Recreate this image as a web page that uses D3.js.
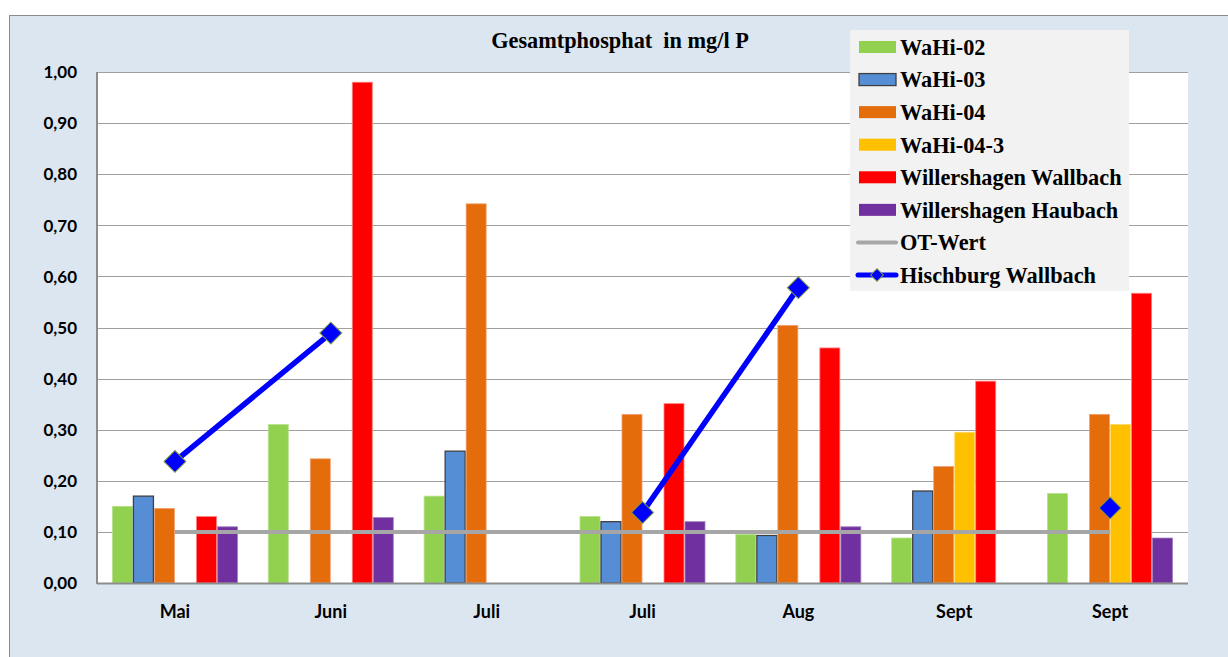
<!DOCTYPE html>
<html><head><meta charset="utf-8">
<script src="https://cdn.jsdelivr.net/npm/d3@7"></script>
<style>body{margin:0;background:#fff}svg{display:block}</style>
</head><body>
<svg id="c" width="1228" height="657"></svg>
<script>
const categories = ["Mai","Juni","Juli","Juli ","Aug","Sept","Sept "];
const categoryLabels = ["Mai","Juni","Juli","Juli","Aug","Sept","Sept"];
const wahi02 = [0.15,0.31,0.17,0.13,0.095,0.088,0.175];
const wahi03 = [0.17,null,0.258,0.12,0.093,0.18,null];
const wahi04 = [0.146,0.243,0.742,0.33,0.504,0.228,0.33];
const wahi043 = [null,null,null,null,null,0.295,0.31];
const willWallbach = [0.13,0.98,null,0.351,0.46,0.395,0.567];
const willHaubach = [0.11,0.128,null,0.12,0.11,null,0.088];
const otWert = [0.10,0.10,0.10,0.10,0.10,0.10,0.10];
const hischburg = [0.238,0.489,null,0.138,0.578,null,0.147];
const yTicks = [0,0.1,0.2,0.3,0.4,0.5,0.6,0.7,0.8,0.9,1.0];

const barSeries = [
  {name:"WaHi-02", values:wahi02, color:"#92d050", stroke:"#b5e08a"},
  {name:"WaHi-03", values:wahi03, color:"#558ed5", stroke:"#404040"},
  {name:"WaHi-04", values:wahi04, color:"#e46c0a", stroke:"#f0a070"},
  {name:"WaHi-04-3", values:wahi043, color:"#ffc000", stroke:"#ffd966"},
  {name:"Willershagen Wallbach", values:willWallbach, color:"#ff0000", stroke:"#ff8080"},
  {name:"Willershagen Haubach", values:willHaubach, color:"#7030a0", stroke:"#a080c0"}
];

const svg = d3.select("#c");
svg.append("rect").attr("x",9.5).attr("y",15.5).attr("width",1240).attr("height",700)
  .attr("fill","#dce6f1").attr("stroke","#8c8c8c").attr("stroke-width",1);

const pL=97, pR=1188, pT=72, pB=583;
const x = d3.scaleBand().domain(categories).range([pL,pR]).paddingInner(0).paddingOuter(0);
const y = d3.scaleLinear().domain([0,1]).range([pB,pT]);
const inner = d3.scaleBand().domain(barSeries.map(s=>s.name)).range([0,126]);
const off = (x.bandwidth()-126)/2;

svg.append("rect").attr("x",pL).attr("y",pT).attr("width",pR-pL).attr("height",pB-pT).attr("fill","#fff");

svg.append("g").selectAll("line").data(yTicks.filter(t=>t>0)).join("line")
  .attr("x1",pL).attr("x2",pR).attr("y1",d=>Math.round(y(d))+0.5).attr("y2",d=>Math.round(y(d))+0.5)
  .attr("stroke","#a0a0a0").attr("stroke-width",1.2);

const yAxis = d3.axisLeft(y).tickValues(yTicks).tickSize(0).tickPadding(20)
  .tickFormat(d=>d3.format(".2f")(d).replace(".",","));
const ya = svg.append("g").attr("transform",`translate(${pL},0)`).call(yAxis);
ya.select(".domain").remove();
ya.selectAll("text").attr("font-family","Lato, 'Open Sans', sans-serif").attr("font-weight","bold")
  .attr("font-size",17).attr("fill","#000").attr("dy","0.34em");

barSeries.forEach(s=>{
  svg.append("g").selectAll("rect").data(categories.map((c,i)=>({c,v:s.values[i]})).filter(d=>d.v!=null)).join("rect")
    .attr("x",d=>x(d.c)+off+inner(s.name)+0.5)
    .attr("width",inner.bandwidth()-1)
    .attr("y",d=>y(d.v))
    .attr("height",d=>pB-y(d.v))
    .attr("fill",s.color).attr("stroke",s.stroke).attr("stroke-width",s.name==="WaHi-03"?1.3:0.8);
});

svg.append("line").attr("x1",pL).attr("x2",pL).attr("y1",pT).attr("y2",pB+1).attr("stroke","#8c8c8c").attr("stroke-width",2);
svg.append("line").attr("x1",pL).attr("x2",pR).attr("y1",pB+0.5).attr("y2",pB+0.5).attr("stroke","#8c8c8c").attr("stroke-width",2);

const xAxis = d3.axisBottom(x).tickSize(0).tickPadding(22).tickFormat((d,i)=>categoryLabels[i]);
const xa = svg.append("g").attr("transform",`translate(0,${pB})`).call(xAxis);
xa.select(".domain").remove();
xa.selectAll("text").attr("font-family","Lato, 'Open Sans', sans-serif").attr("font-weight","bold")
  .attr("font-size",18).attr("fill","#000");

const cx = c=>x(c)+x.bandwidth()/2;
svg.append("path").datum(categories.map((c,i)=>({c,v:otWert[i]})))
  .attr("d",d3.line().x(d=>cx(d.c)).y(d=>y(d.v)))
  .attr("fill","none").attr("stroke","#a6a6a6").attr("stroke-width",4);

const hd = categories.map((c,i)=>({c,v:hischburg[i]}));
svg.append("path").datum(hd)
  .attr("d",d3.line().defined(d=>d.v!=null).x(d=>cx(d.c)).y(d=>y(d.v)))
  .attr("fill","none").attr("stroke","#0000ff").attr("stroke-width",5.5);
svg.append("g").selectAll("path").data(hd.filter(d=>d.v!=null)).join("path")
  .attr("d",d3.symbol().type(d3.symbolSquare).size(240))
  .attr("transform",d=>`translate(${cx(d.c)},${y(d.v)}) rotate(45)`)
  .attr("fill","#0000ff").attr("stroke","#7f9a3a").attr("stroke-width",1);

svg.append("text").attr("x",620).attr("y",48).attr("text-anchor","middle")
  .attr("font-family","'Liberation Serif', 'Times New Roman', serif").attr("font-weight","bold").attr("font-size",22.3)
  .attr("fill","#000").style("white-space","pre").text("Gesamtphosphat  in mg/l P");

const lg = svg.append("g");
lg.append("rect").attr("x",850).attr("y",30).attr("width",279).attr("height",261).attr("fill","#f2f2f2");
const legendItems = barSeries.map(s=>({name:s.name,type:"bar",color:s.color,stroke:s.name==="WaHi-03"?"#404040":"none"}))
  .concat([{name:"OT-Wert",type:"line",color:"#a6a6a6"},{name:"Hischburg Wallbach",type:"marker",color:"#0000ff"}]);
const ly = d3.scalePoint().domain(legendItems.map(d=>d.name)).range([47,275]);
legendItems.forEach(it=>{
  const yy = ly(it.name);
  if(it.type==="bar"){
    lg.append("rect").attr("x",859).attr("y",yy-6).attr("width",37).attr("height",12)
      .attr("fill",it.color).attr("stroke",it.stroke).attr("stroke-width",1.3);
  } else if(it.type==="line"){
    lg.append("line").attr("x1",858).attr("x2",896).attr("y1",yy).attr("y2",yy)
      .attr("stroke",it.color).attr("stroke-width",4).attr("stroke-linecap","round");
  } else {
    lg.append("line").attr("x1",858).attr("x2",896).attr("y1",yy).attr("y2",yy)
      .attr("stroke",it.color).attr("stroke-width",5).attr("stroke-linecap","round");
    lg.append("path").attr("d",d3.symbol().type(d3.symbolSquare).size(81))
      .attr("transform",`translate(877,${yy}) rotate(45)`)
      .attr("fill","#0000ff").attr("stroke","#7f9a3a").attr("stroke-width",1);
  }
  lg.append("text").attr("x",900).attr("y",yy).attr("dy","0.35em")
    .attr("font-family","'Liberation Serif', 'Times New Roman', serif").attr("font-weight","bold").attr("font-size",22.3)
    .attr("fill","#000").text(it.name);
});
</script>
</body></html>
